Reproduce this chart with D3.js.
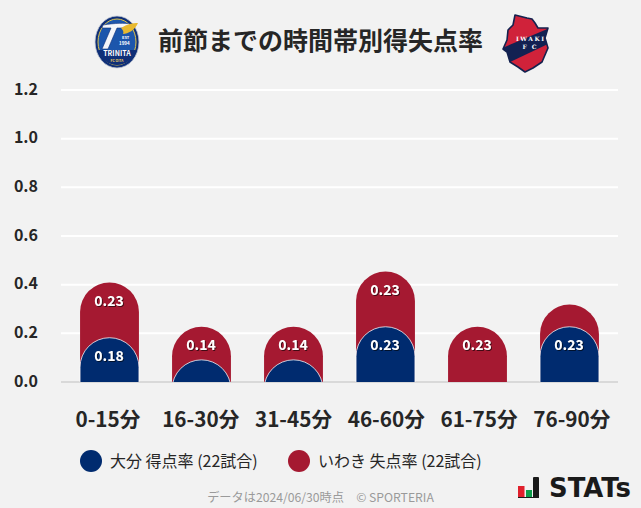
<!DOCTYPE html>
<html><head><meta charset="utf-8">
<script src="https://cdn.jsdelivr.net/npm/d3@7"></script>
<style>
html,body{margin:0;padding:0;background:#f2f2f2}
svg{display:block}
text{font-family:"Noto Sans CJK JP","Noto Sans",sans-serif}
</style></head><body>
<svg id="c" width="641" height="508"></svg>
<script>
const categories = ["0-15分","16-30分","31-45分","46-60分","61-75分","76-90分"];
const oitaValues = [0.182,0.091,0.091,0.227,0,0.227];
const iwakiValues = [0.227,0.136,0.136,0.227,0.227,0.091];
const oitaLabels = ["0.18","","","0.23","","0.23"];
const iwakiLabels = ["0.23","0.14","0.14","0.23","0.23",""];
const yTicks = [0,0.2,0.4,0.6,0.8,1.0,1.2];
const titleText = "前節までの時間帯別得失点率";
const legendItems = ["大分 得点率 (22試合)","いわき 失点率 (22試合)"];
const footerText = "データは2024/06/30時点　© SPORTERIA";

const RED="#a51931", BLUE="#002b6f", INK="#262626";
const svg=d3.select("#c");
svg.append("rect").attr("width",641).attr("height",508).attr("fill","#f2f2f2");

const x=d3.scaleBand().domain(categories).range([63.5,615.5]).paddingInner(0.36).paddingOuter(0.18);
const xLabel=d3.scaleBand().domain(categories).range([61.6,618.2]);
const y=d3.scaleLinear().domain([0,1.2]).range([382,90]);

const defs=svg.append("defs");
defs.append("clipPath").attr("id","plot").append("rect").attr("x",0).attr("y",0).attr("width",641).attr("height",y(0));
const sh=defs.append("filter").attr("id","ts").attr("x","-20%").attr("y","-20%").attr("width","140%").attr("height","140%");
sh.append("feDropShadow").attr("dx",1).attr("dy",1).attr("stdDeviation",0.4).attr("flood-color","#000").attr("flood-opacity",0.6);

svg.append("g").selectAll("line").data(yTicks).join("line")
 .attr("x1",61).attr("x2",618).attr("y1",d=>y(d)).attr("y2",d=>y(d))
 .attr("stroke",d=>d===0?"#d9d9d9":"#ffffff").attr("stroke-width",2);

svg.append("g").selectAll("text").data(yTicks).join("text")
 .attr("x",38).attr("y",d=>y(d)-1).attr("dy","0.36em").attr("text-anchor","end")
 .attr("font-size",16).attr("font-weight",700).attr("fill",INK).text(d=>d.toFixed(1));

svg.append("g").selectAll("text").data(categories).join("text")
 .attr("x",d=>xLabel(d)+xLabel.bandwidth()/2).attr("y",427).attr("text-anchor","middle")
 .attr("font-size",20.7).attr("font-weight",700).attr("fill",INK).text(d=>d);

function capsule(xp,w,top,base){
  const r=w/2;
  return `M${xp},${base+r}V${top+r}A${r},${r} 0 0 1 ${xp+w},${top+r}V${base+r}Z`;
}
const bars=svg.append("g").attr("clip-path","url(#plot)");
const rows=categories.map((c,i)=>({c,a:oitaValues[i],b:iwakiValues[i]}));
bars.selectAll("path.r").data(rows).join("path").attr("class","r")
 .attr("d",d=>capsule(x(d.c),x.bandwidth(),y(d.a+d.b),y(0))).attr("fill",RED);
bars.selectAll("path.b").data(rows.filter(d=>d.a>0)).join("path").attr("class","b")
 .attr("d",d=>capsule(x(d.c),x.bandwidth(),y(d.a),y(0)))
 .attr("fill",BLUE).attr("stroke","#fff").attr("stroke-opacity",0.75).attr("stroke-width",1);

const lab=svg.append("g").attr("filter","url(#ts)");
function labels(arr,pos){
  lab.append("g").selectAll("text").data(rows).join("text")
  .attr("x",d=>x(d.c)+x.bandwidth()/2-0.5).attr("y",pos).attr("dy","0.36em")
  .attr("text-anchor","middle").attr("font-size",14).attr("font-weight",700).attr("fill","#fff")
  .text((d,i)=>arr[i]);
}
labels(iwakiLabels,d=>y(d.a+d.b)+18);
labels(oitaLabels,d=>y(d.a)+18);

svg.append("text").attr("x",320.5).attr("y",50).attr("text-anchor","middle")
 .attr("font-size",25).attr("font-weight",700).attr("fill",INK).text(titleText);

const legendX=[91,299];
legendItems.forEach((t,i)=>{
 svg.append("circle").attr("cx",legendX[i]).attr("cy",461).attr("r",11).attr("fill",i?RED:BLUE);
 svg.append("text").attr("x",legendX[i]+19).attr("y",466.5).attr("font-size",16).attr("font-weight",400).attr("fill",INK).text(t);
});

svg.append("text").attr("x",320.5).attr("y",502).attr("text-anchor","middle").attr("font-size",12.2).attr("fill","#9a9a9a").text(footerText);

const st=svg.append("g");
st.append("rect").attr("x",518).attr("y",486).attr("width",6.5).attr("height",11).attr("fill","#e0202c");
st.append("rect").attr("x",526).attr("y",490).attr("width",6).attr("height",7).attr("fill","#0d9c4a");
st.append("rect").attr("x",533).attr("y",477).attr("width",6).attr("height",21).attr("rx",1).attr("fill","#1a1a1a");
st.append("rect").attr("x",518).attr("y",497).attr("width",21).attr("height",1).attr("fill","#1a1a1a");
st.append("text").attr("x",549).attr("y",497).attr("textLength",82).attr("lengthAdjust","spacingAndGlyphs")
 .attr("font-size",26).attr("font-weight",700).attr("style","font-family:'DejaVu Sans'").attr("fill","#1a1a1a").text("STATs");

// Oita crest
const o=svg.append("g").attr("transform","translate(117,42)");
o.append("ellipse").attr("rx",22).attr("ry",26).attr("fill","#0f2f78").attr("stroke","#c9ced6").attr("stroke-width",.8);
o.append("ellipse").attr("rx",19).attr("ry",23).attr("fill","#1c56ac").attr("stroke","#e2c64a").attr("stroke-width",1);
o.append("path").attr("d","M-14,-17 C-2,-19 8,-19 14,-18 L8,-14 L0,-14 L-9,7 L-15,7 L-6,-14 L-15,-14 Z").attr("fill","#f4f6fa").attr("stroke","#0f2f78").attr("stroke-width",.6);
o.append("path").attr("d","M4,-14 C10,-18 16,-19 21,-19 C18,-12 11,-8 6,-8 C7,-10 6,-12 4,-14 Z").attr("fill","#e8b92f");
o.append("text").attr("x",5).attr("y",-3).attr("font-size",4).attr("font-weight",700).attr("fill","#fff").text("EST");
o.append("text").attr("x",2).attr("y",3).attr("font-size",4.5).attr("font-weight",700).attr("fill","#fff").text("1994");
o.append("path").attr("d","M-19,8 H19 C16,18 8,23 0,23 C-8,23 -16,18 -19,8 Z").attr("fill","#0f2f78");
o.append("text").attr("x",0).attr("y",14).attr("text-anchor","middle").attr("font-size",7).attr("font-weight",700).attr("fill","#fff").text("TRINITA");
o.append("text").attr("x",0).attr("y",19.5).attr("text-anchor","middle").attr("font-size",3.4).attr("font-weight",700).attr("fill","#f0d060").text("FC OITA");

// Iwaki crest
const w=svg.append("g").attr("transform","translate(526,42)");
const outline="M-11,-27 L1,-24 L6,-23 L9,-19 L12,-14 L22,-14 L19,-4 L22,6 L19,13 L16,20 L7,26 L-1,30 L-8,25 L-16,20 L-19,10 L-23,7 L-19,-2 L-18,-12 L-13,-17 Z";
w.append("path").attr("d",outline).attr("fill","#d0223a").attr("stroke","#14224f").attr("stroke-width",1.6).attr("stroke-linejoin","round");
w.append("clipPath").attr("id","iw").append("path").attr("d",outline);
w.append("path").attr("clip-path","url(#iw)").attr("d","M-26,7 L26,-15 L26,0 L-20,22 Z").attr("fill","#122152");
w.append("text").attr("x",4).attr("y",-1.5).attr("text-anchor","middle").attr("font-size",6).attr("font-weight",700).attr("textLength",28).attr("style","font-family:'DejaVu Serif'").attr("fill","#fff").text("IWAKI");
w.append("text").attr("x",3.5).attr("y",6.5).attr("text-anchor","middle").attr("font-size",6).attr("font-weight",700).attr("textLength",14).attr("style","font-family:'DejaVu Serif'").attr("fill","#fff").text("FC");
</script>
</body></html>
